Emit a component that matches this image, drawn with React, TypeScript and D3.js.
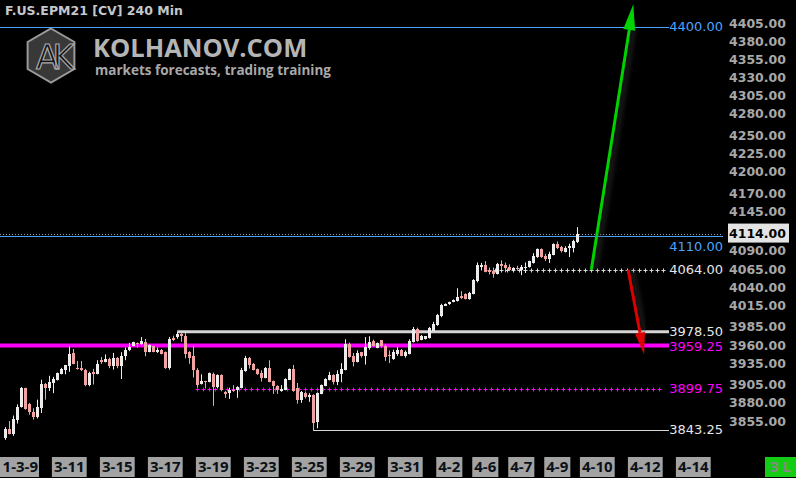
import React from 'react'
import * as d3 from 'd3'

// 240 min bars, F.US.EPM21
const opens = [3831,3844,3837.5,3857,3874.5,3900,3879,3867,3860.5,3873.5,3906.5,3901,3907.5,3912,3920.5,3926,3931.5,3949,3928.5,3928,
  3926,3904.5,3923,3920.5,3939,3937,3940.5,3931.5,3942.5,3931.5,3945.5,3952.5,3959,3963,3961,3964.5,3951,3958,3951,3953.5,
  3950,3928.5,3970,3971,3975.5,3973,3950,3945.5,3926,3906.5,3910,3909.5,3920.5,3902,3918.5,3894.5,3893.5,3898,3897.5,3901,
  3924,3941.5,3934,3927,3922,3915,3928.5,3910,3903,3896.5,3898,3912,3927,3900,3883.5,3893.5,3888,3891,3853,3892.5,
  3903.5,3912,3918.5,3909.5,3919.5,3926,3962,3945,3937,3950,3945,3955.5,3965.5,3956.5,3966.5,3958,3946,3940.5,3947,3953.5,
  3944.5,3948,3964.5,3982,3967.5,3968,3970,3980,3987.5,3999.5,4014.5,4016,4019.5,4020.5,4028,4031,4023.5,4031,4048.5,4067.5,
  4070.5,4063,4062,4058.5,4072.5,4070.5,4067.5,4063,4067,4064,4067,4067.5,4073.5,4081.5,4092.5,4083.5,4079.5,4084.5,4100,4095.5,
  4089,4093.5,4093.5,4102]
const highs = [3846.5,3855,3862.5,3878,3902,3901,3880,3872.5,3884.5,3912,3907.5,3917.5,3916,3922,3928.5,3932.5,3958,3954.5,3938,3938,
  3927,3923,3927,3939,3943.5,3947,3942.5,3949,3943.5,3950,3956.5,3963,3964.5,3963.5,3971,3968.5,3961,3959,3956.5,3954.5,
  3951,3971,3973,3978.5,3976.5,3976.5,3951.5,3959,3928,3919.5,3910.5,3922,3922,3919.5,3919.5,3896.5,3901,3904.5,3903,3928.5,
  3945,3943.5,3935,3927.5,3925,3929.5,3939,3911,3904.5,3904.5,3914,3927.5,3932.5,3907.5,3896.5,3895.5,3893.5,3892,3894.5,3905.5,
  3914,3923,3919.5,3925,3935,3968,3963.5,3949,3952.5,3950.5,3971,3972,3967.5,3963.5,3966.5,3961,3952.5,3953.5,3957,3954.5,
  3952.5,3968,3985,3984,3974,3972.5,3985,3992,4003,4017,4017.5,4020,4023,4038.5,4034.5,4031.5,4033.5,4051,4074,4073.5,
  4076,4067,4067,4073.5,4077,4074,4071.5,4067.5,4069.5,4070.5,4074,4076.5,4087,4093.5,4093.5,4086,4089,4100.5,4103,4097,
  4096.5,4100,4105.5,4123]
const lows = [3829,3836.5,3834.5,3851.5,3873.5,3870.5,3863.5,3857,3858.5,3866,3884.5,3896.5,3893.5,3911,3919.5,3919.5,3923,3933.5,3926,3924,
  3903,3903,3905.5,3919.5,3934,3936,3928,3926,3928,3913,3939,3951.5,3958.5,3956.5,3960,3944.5,3950,3950,3949,3947,
  3927,3926,3965.5,3968.5,3964.5,3941.5,3934,3915,3901,3905.5,3900,3908.5,3876,3900,3896.5,3887,3885.5,3895.5,3887,3900,
  3923,3927.5,3925,3918.5,3909.5,3914,3908.5,3892.5,3892.5,3895.5,3897.5,3911.5,3895.5,3879,3880,3886,3881.5,3843.25,3845,3892,
  3903,3911,3905.5,3904.5,3908.5,3925,3942.5,3930.5,3936,3942.5,3933,3953.5,3958,3955.5,3956.5,3938,3935,3939.5,3945,3944.5,
  3942.5,3947,3963.5,3964.5,3966.5,3967.5,3969,3979.5,3986.5,3998.5,4014,4015.5,4019,4020,4023.5,4023,4022.5,4030,4046.5,4063,
  4060.5,4057.5,4053,4057.5,4064,4060.5,4062,4062.5,4063,4056.5,4059.5,4067,4072.5,4080.5,4080.5,4076,4073.5,4084,4092.5,4088,
  4088,4081.5,4088,4101]
const closes = [3844,3837.5,3857.5,3875,3901,3871.5,3867,3860.5,3874.5,3906.5,3901,3909.5,3913,3921.5,3927,3932.5,3948,3934,3927,3925,
  3904.5,3921.5,3920.5,3934,3937,3940.5,3931.5,3942.5,3931.5,3945.5,3952.5,3957,3963.5,3961,3965.5,3951,3960,3951,3953.5,3948,
  3928.5,3969,3966.5,3975.5,3972,3948,3942.5,3925,3904.5,3910,3909.5,3921,3902,3918.5,3897.5,3892.5,3898,3896.5,3902,3926,
  3942.5,3932.5,3926,3920.5,3915,3928.5,3909.5,3903,3897.5,3899,3913,3927,3896.5,3883.5,3894.5,3888,3891,3852,3893.5,3904.5,
  3913,3918.5,3909.5,3920.5,3927,3961,3943.5,3937,3949,3944.5,3957,3963.5,3959,3962.5,3959,3943.5,3944.5,3950,3953.5,3945,
  3950,3965.5,3982,3965.5,3972,3972,3983,3989.5,4001.5,4015,4017,4020,4022.5,4027,4024.5,4023.5,4032,4049.5,4070.5,4070.5,
  4061.5,4061.5,4057.5,4072.5,4069.5,4067,4063,4067,4065,4067.5,4068.5,4076,4083.5,4092.5,4081.5,4079.5,4086,4100,4093.5,4090,
  4094.5,4096.5,4103.5,4114]

const axisTicks = [4405,4380,4355,4330,4305,4280,4250,4225,4200,4170,4145,4090,4065,4040,4015,3985,3960,3935,3905,3880,3855]
const dateLabels = ['3-11','3-15','3-17','3-19','3-23','3-25','3-29','3-31','4-2','4-6','4-7','4-9','4-10','4-12','4-14']
const dateBars = [17,29,41,53,65,77,89,101,112,121,130,139,149,161,173]

const lastPrice = 4114
const targetUp = 4400
const blueLevel = 4110
const pivot = 4064
const grayLevel = 3978.5
const magentaLevel = 3959.25
const magentaDotted = 3899.75
const lowLevel = 3843.25
// bar where each level starts
const pivotStart = 122
const grayStart = 44
const magDotStart = 49
const lowStart = 78
// arrows: [bar, price] -> [bar, price]
const greenArrow = [[147.5, 4064], [158, 4431]]
const redArrow = [[156.7, 4064], [160.7, 3947]]

const fmt = (v: number) => v.toFixed(2)

export default function App() {
  const W = 796, H = 478
  const x = d3.scaleLinear().domain([0, 180]).range([1.3, 721.3])
  const y = d3.scaleLinear().domain([3855, 4405]).range([421, 23])
  const lineEnd = 669
  const px = (v: number) => Math.round(y(v)) + 0.5

  const bull = '#ececec', bear = '#f4a3a3'
  const blue = '#4aa3ff', magenta = '#ff00ff'

  const plusLine = (from: number, to: number, price: number) => {
    const yy = Math.round(y(price)) + 0.5
    return d3.range(Math.round(from) + 0.5, to, 6).map(xx => `M${xx - 2},${yy}h4M${xx},${yy - 2}v4`).join('')
  }

  const arrow = (pts: number[][], color: string, head: number, hw: number) => {
    const [x1, y1] = [x(pts[0][0]), y(pts[0][1])]
    const [x2, y2] = [x(pts[1][0]), y(pts[1][1])]
    const len = Math.hypot(x2 - x1, y2 - y1)
    const ux = (x2 - x1) / len, uy = (y2 - y1) / len
    const bx = x2 - ux * head, by = y2 - uy * head
    const tri = `M${x2},${y2}L${bx - uy * hw},${by + ux * hw}L${bx + uy * hw},${by - ux * hw}Z`
    return (
      <g>
        <line x1={x1 + 4} y1={y1} x2={bx + 4} y2={by} stroke="#444" strokeWidth={6} opacity={0.35} filter="url(#blur)" />
        <line x1={x1} y1={y1} x2={bx} y2={by} stroke={color} strokeWidth={3} />
        <path d={tri} fill={color} />
      </g>
    )
  }

  const hex = d3.range(6).map(k => {
    const a = Math.PI / 3 * k - Math.PI / 2
    return [51 + 27 * Math.cos(a), 55.5 + 27 * Math.sin(a)]
  })

  const dateW = (s: string) => s.length * 8.7

  return (
    <svg width={W} height={H} style={{ position: 'fixed', left: 0, top: 0, background: '#000' }}>
      <defs>
        <filter id="blur"><feGaussianBlur stdDeviation="2" /></filter>
        <clipPath id="plot"><rect x={0} y={0} width={727} height={452} /></clipPath>
      </defs>
      <rect width={W} height={H} fill="#000" />

      {/* logo */}
      <path d={'M' + hex.map(p => p.join(',')).join('L') + 'Z'} fill="#383838" stroke="#9a9a9a" strokeWidth={2} />
      <text x={52} y={69} textAnchor="middle" fontFamily="DejaVu Sans" fontSize={33} letterSpacing={-6}
        fill="#111" stroke="#a8a8a8" strokeWidth={1.2}>AK</text>
      <text x={93} y={57} fontFamily="Open Sans" fontWeight={700} fontSize={25.5} fill="#b5b5b5">KOLHANOV.COM</text>
      <text x={95} y={75} fontFamily="Open Sans" fontWeight={700} fontSize={13.5} fill="#a8a8a8">markets forecasts, trading training</text>

      <g clipPath="url(#plot)">
        {/* levels */}
        <line x1={0} x2={lineEnd} y1={px(targetUp)} y2={px(targetUp)} stroke={blue} strokeWidth={1} />
        <line x1={0} x2={723} y1={px(lastPrice)} y2={px(lastPrice)} stroke="#8da0b4" strokeDasharray="1 2" />
        <line x1={0} x2={723} y1={px(blueLevel)} y2={px(blueLevel)} stroke={blue} strokeWidth={1} />
        <line x1={x(grayStart)} x2={lineEnd} y1={y(grayLevel)} y2={y(grayLevel)} stroke="#d4d4d4" strokeWidth={3} />
        <line x1={0} x2={lineEnd} y1={y(magentaLevel)} y2={y(magentaLevel)} stroke={magenta} strokeWidth={4} />
        <path d={plusLine(x(magDotStart), 665, magentaDotted)} stroke={magenta} strokeWidth={1} />
        <path d={plusLine(x(pivotStart), 665, pivot)} stroke="#d8d8d8" strokeWidth={1} />
        <line x1={x(lowStart)} x2={lineEnd} y1={px(lowLevel)} y2={px(lowLevel)} stroke="#d8d8d8" strokeWidth={1} />
        <line x1={Math.round(x(lowStart)) + 0.5} x2={Math.round(x(lowStart)) + 0.5} y1={y(3852)} y2={px(lowLevel)} stroke="#d8d8d8" />

        {/* candles */}
        {opens.map((o, i) => {
          const c = closes[i]
          const cx = Math.round(x(i + 1))
          const col = c >= o ? bull : bear
          const top = Math.round(y(Math.max(o, c)))
          const bot = Math.round(y(Math.min(o, c)))
          return (
            <g key={i}>
              <line x1={cx + 0.5} x2={cx + 0.5} y1={y(highs[i])} y2={y(lows[i])} stroke={col} strokeWidth={1} />
              <rect x={cx - 1} width={3} y={top} height={Math.max(1, bot - top)} fill={col} />
            </g>
          )
        })}

        {arrow(greenArrow, '#00d400', 26, 6)}
        {arrow(redArrow, '#dd0000', 22, 5)}
      </g>

      {/* level labels */}
      <g fontFamily="DejaVu Sans" fontSize={13} textAnchor="end" dominantBaseline="central">
        <text x={723} y={y(targetUp)} fill={blue}>{fmt(targetUp)}</text>
        <text x={723} y={y(blueLevel) + 10} fill={blue}>{fmt(blueLevel)}</text>
        <text x={723} y={y(pivot)} fill="#e6e6e6">{fmt(pivot)}</text>
        <text x={723} y={y(grayLevel)} fill="#e6e6e6">{fmt(grayLevel)}</text>
        <text x={723} y={y(magentaLevel) + 1} fill={magenta}>{fmt(magentaLevel)}</text>
        <text x={723} y={y(magentaDotted)} fill={magenta}>{fmt(magentaDotted)}</text>
        <text x={723} y={y(lowLevel)} fill="#e6e6e6">{fmt(lowLevel)}</text>
      </g>

      {/* right axis */}
      <g fontFamily="DejaVu Sans" fontWeight={700} fontSize={12.5} fill="#a8a8a8" dominantBaseline="central">
        {axisTicks.map(t => <text key={t} x={729} y={y(t)}>{fmt(t)}</text>)}
      </g>
      <rect x={728} y={y(lastPrice) - 10} width={61} height={19} fill="#e4e4e4" />
      <text x={729} y={y(lastPrice)} fontFamily="DejaVu Sans" fontWeight={700} fontSize={12.5} fill="#000" dominantBaseline="central">{fmt(lastPrice)}</text>

      {/* title */}
      <text x={5} y={15} fontFamily="DejaVu Sans" fontWeight={700} fontSize={12.5} fill="#c4c8cc">F.US.EPM21 [CV] 240 Min</text>

      {/* date axis */}
      <g fontFamily="Open Sans" fontWeight={700} fontSize={15} fill="#0b1018" textAnchor="middle">
        <rect x={-40} y={457} width={79} height={20} fill="#a3a3a3" />
        <text x={38} y={472} textAnchor="end">1-3-9</text>
        {dateLabels.map((d, i) => {
          const cx = x(dateBars[i])
          const w = dateW(d)
          return (
            <g key={d}>
              <rect x={cx - w / 2} y={457} width={w} height={20} fill="#a3a3a3" />
              <text x={cx} y={472}>{d}</text>
            </g>
          )
        })}
      </g>
      <rect x={765} y={457} width={31} height={20} fill="#14cc14" />
      <text x={780.5} y={472} textAnchor="middle" fontFamily="Open Sans" fontWeight={700} fontSize={15} fill="#888">3 L</text>
    </svg>
  )
}
